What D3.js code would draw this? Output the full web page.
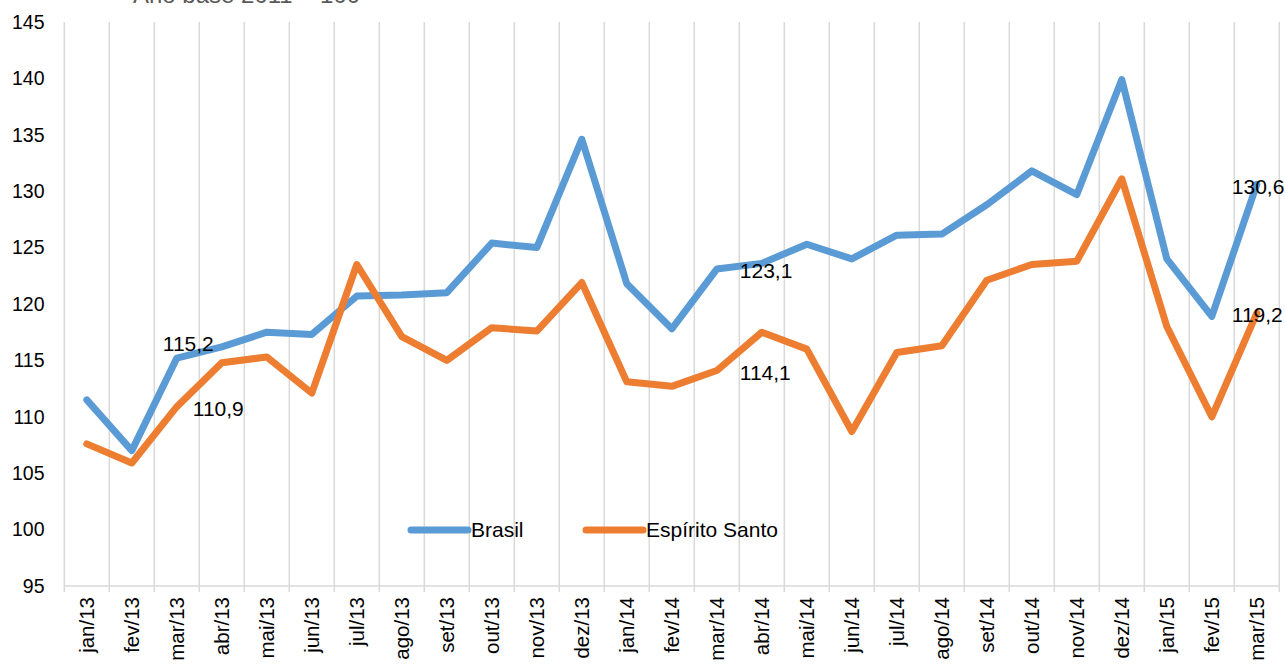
<!DOCTYPE html>
<html>
<head>
<meta charset="utf-8">
<script src="https://cdn.jsdelivr.net/npm/d3@7"></script>
<style>
  body { margin: 0; background: #fff; }
  text { font-family: "Liberation Sans", Arial, sans-serif; fill: #000; }
</style>
</head>
<body>
<svg width="1285" height="664"></svg>
<script>
const meses = ["jan/13","fev/13","mar/13","abr/13","mai/13","jun/13","jul/13","ago/13","set/13","out/13","nov/13","dez/13",
               "jan/14","fev/14","mar/14","abr/14","mai/14","jun/14","jul/14","ago/14","set/14","out/14","nov/14","dez/14",
               "jan/15","fev/15","mar/15"];

const brasil = [111.5,107.0,115.2,116.2,117.5,117.3,120.7,120.8,121.0,125.4,125.0,134.6,
                121.8,117.8,123.1,123.6,125.3,124.0,126.1,126.2,128.8,131.8,129.7,139.9,
                124.0,118.9,130.6];

const espiritoSanto = [107.6,105.9,110.9,114.8,115.3,112.1,123.5,117.1,115.0,117.9,117.6,121.9,
                       113.1,112.7,114.1,117.5,116.0,108.7,115.7,116.3,122.1,123.5,123.8,131.1,
                       118.0,110.0,119.2];

const yTicks = [95,100,105,110,115,120,125,130,135,140,145];

// meses com rótulo de valor
const rotulados = ["mar/13","mar/14","mar/15"];

const series = [
  {nome: "Brasil", valores: brasil, cor: "#5B9BD5"},
  {nome: "Espírito Santo", valores: espiritoSanto, cor: "#ED7D31"}
];

const svg = d3.select("svg");

const x = d3.scaleBand()
    .domain(meses)
    .range([64.3, 1279.3]);

const y = d3.scaleLinear()
    .domain([95, 145])
    .range([586, 22]);

const fmt = d3.formatLocale({decimal: ",", thousands: ".", grouping: [3], currency: ["R$", ""]}).format(".1f");

// título cortado no topo
svg.append("text")
    .attr("x", 133)
    .attr("y", 3)
    .attr("font-size", 24)
    .style("fill", "#595959")
    .text("Ano base 2011 = 100");

// linhas de grade verticais nos limites das categorias
const limites = meses.map(m => x(m)).concat([x.range()[1]]);
svg.append("g").selectAll("line")
  .data(limites)
  .enter().append("line")
    .attr("x1", d => d).attr("x2", d => d)
    .attr("y1", y(145)).attr("y2", y(95) + 6)
    .attr("stroke", "#D9D9D9")
    .attr("stroke-width", 1.5);

// eixo horizontal
svg.append("line")
    .attr("x1", x.range()[0]).attr("x2", x.range()[1])
    .attr("y1", y(95)).attr("y2", y(95))
    .attr("stroke", "#D9D9D9")
    .attr("stroke-width", 1.5);

// rótulos do eixo y
svg.append("g").selectAll("text")
  .data(yTicks)
  .enter().append("text")
    .attr("x", 44.5)
    .attr("y", d => y(d))
    .attr("dy", "0.35em")
    .attr("text-anchor", "end")
    .attr("font-size", 19.5)
    .text(d => d);

// rótulos do eixo x, rotacionados
svg.append("g").selectAll("text")
  .data(meses)
  .enter().append("text")
    .attr("transform", d => "translate(" + (x(d) + x.bandwidth() / 2) + "," + 597 + ") rotate(-90)")
    .attr("dy", "0.35em")
    .attr("text-anchor", "end")
    .attr("font-size", 20.5)
    .text(d => d);

const line = d3.line()
    .x((d, i) => x(meses[i]) + x.bandwidth() / 2)
    .y(d => y(d));

svg.append("g").selectAll("path")
  .data(series)
  .enter().append("path")
    .attr("d", d => line(d.valores))
    .attr("fill", "none")
    .attr("stroke", d => d.cor)
    .attr("stroke-width", 7)
    .attr("stroke-linejoin", "round")
    .attr("stroke-linecap", "round");

// deslocamento dos rótulos de valor (dx a partir do ponto, dy do centro do texto)
const posRotulo = {
  "Brasil":         {"mar/13": [-14, -14], "mar/14": [23, 1.5], "mar/15": [-25, 2]},
  "Espírito Santo": {"mar/13": [16, 1.7],  "mar/14": [23, 2],   "mar/15": [-25, 2]}
};

series.forEach(s => {
  svg.append("g").selectAll("text")
    .data(rotulados)
    .enter().append("text")
      .attr("x", m => x(m) + x.bandwidth() / 2 + posRotulo[s.nome][m][0])
      .attr("y", m => y(s.valores[meses.indexOf(m)]) + posRotulo[s.nome][m][1])
      .attr("dy", "0.35em")
      .attr("font-size", 21)
      .text(m => fmt(s.valores[meses.indexOf(m)]));
});

// legenda
const leg = svg.append("g").selectAll("g")
  .data(series)
  .enter().append("g")
    .attr("transform", (d, i) => "translate(" + [411, 586][i] + ",530)");

leg.append("line")
    .attr("x1", 0).attr("x2", 57)
    .attr("stroke", d => d.cor)
    .attr("stroke-width", 7)
    .attr("stroke-linecap", "round");

leg.append("text")
    .attr("x", 60)
    .attr("dy", "0.35em")
    .attr("font-size", 21)
    .text(d => d.nome);
</script>
</body>
</html>
